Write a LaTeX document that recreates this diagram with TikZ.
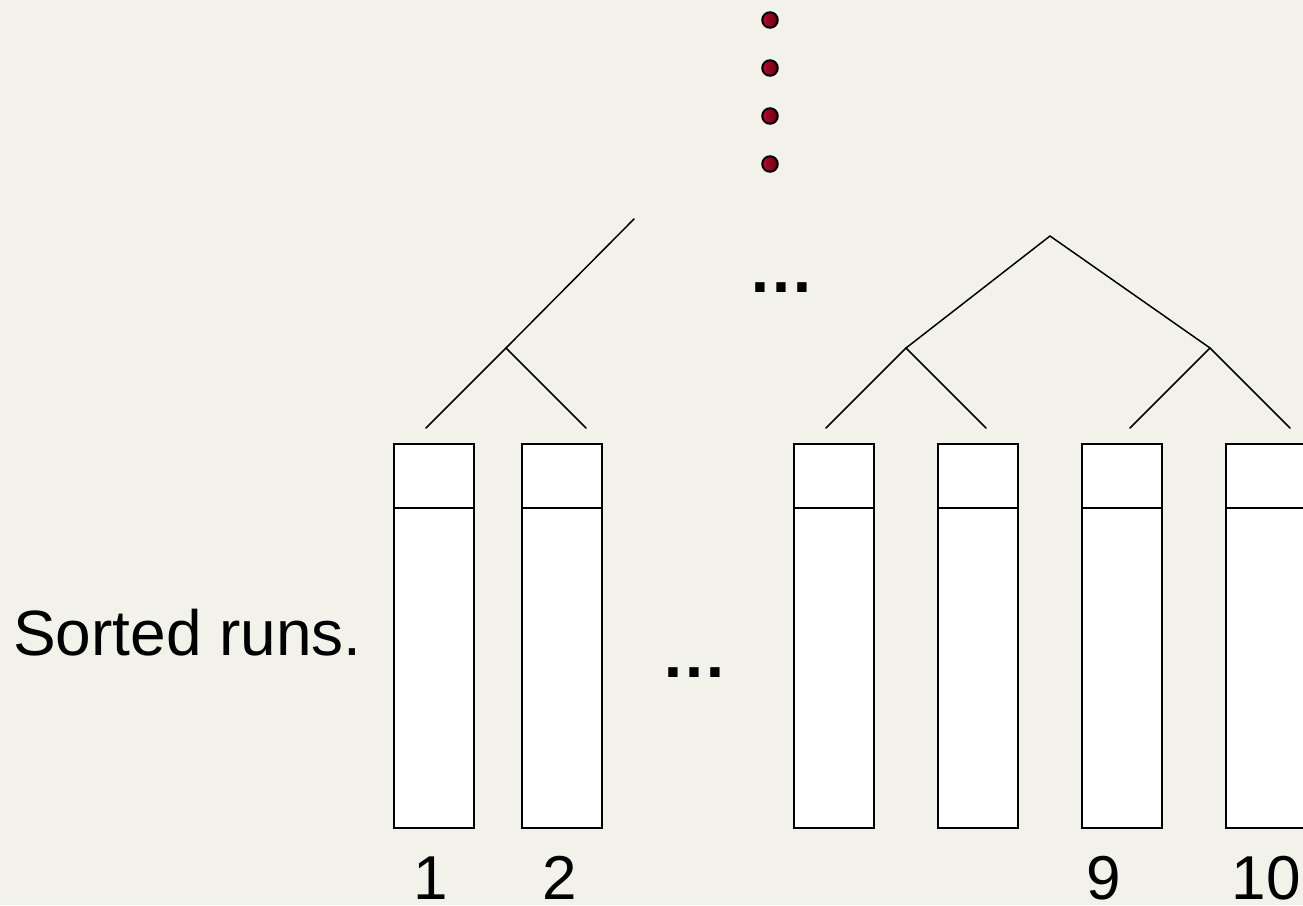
\documentclass[tikz,border=0pt]{standalone}
\usepackage{fontspec}
\setmainfont{Liberation Sans}
\definecolor{bg}{RGB}{242,241,234}
\definecolor{dotlight}{RGB}{185,10,45}
\definecolor{dotdark}{RGB}{95,0,20}
\begin{document}
\begin{tikzpicture}[x=1pt,y=-1pt,
  run/.style={draw=black,line width=2pt,fill=white,minimum width=80pt,minimum height=384pt,inner sep=0pt,outer sep=0pt,anchor=north west},
  divider/.style={draw=black,line width=2pt},
  edge/.style={line width=1.5pt,line cap=round},
  lbl/.style={font=\fontsize{62}{74}\selectfont,anchor=base,inner sep=0pt},
  ell/.style={font=\bfseries\fontsize{66}{78}\selectfont,anchor=base,inner sep=0pt},
  ball/.style={circle,draw=black,line width=2pt,minimum size=15.5pt,inner sep=0pt,left color=dotlight,right color=dotdark}]
\fill[bg] (0,0) rectangle (1303,905);
\useasboundingbox (0,0) rectangle (1303,905);
% dots
\foreach \yy [count=\i] in {20,68,116,164} {
  \node[ball] (dot\i) at (770,\yy) {};
}
% ellipses
\node[ell] (ellup) at (781,292) {…};
\node[ell] (elllow) at (694,677) {…};
% runs
\node[run] (r1) at (394,444) {};
\node[run] (r2) at (522,444) {};
\node[run] (r3) at (794,444) {};
\node[run] (r4) at (938,444) {};
\node[run] (r5) at (1082,444) {};
\node[run] (r6) at (1226,444) {};
\foreach \r in {r1,r2,r3,r4,r5,r6} {
  \draw[divider] ([yshift=-64pt]\r.north west) -- ([yshift=-64pt]\r.north east);
}
% left tree
\coordinate (a) at (634,219);
\coordinate (b) at (506,348);
\coordinate (bl) at (426,428);
\coordinate (br) at (586,428);
\draw[edge] (a) -- (b) -- (bl);
\draw[edge] (b) -- (br);
% right tree
\coordinate (c) at (1050,236);
\coordinate (d) at (906,348);
\coordinate (e) at (1210,348);
\coordinate (dl) at (826,428);
\coordinate (dr) at (986,428);
\coordinate (el) at (1130,428);
\coordinate (er) at (1290,428);
\draw[edge] (d) -- (c) -- (e);
\draw[edge] (dl) -- (d) -- (dr);
\draw[edge] (el) -- (e) -- (er);
% labels
\node[lbl,anchor=base west,font=\fontsize{64}{76}\selectfont] (sorted) at (13,655) {Sorted runs.};
\node[lbl] (n1) at (431,899) {1};
\node[lbl] (n2) at (560,899) {2};
\node[lbl] (n9) at (1104,899) {9};
\node[lbl] (n10) at (1266,899) {10};
\end{tikzpicture}
\end{document}
